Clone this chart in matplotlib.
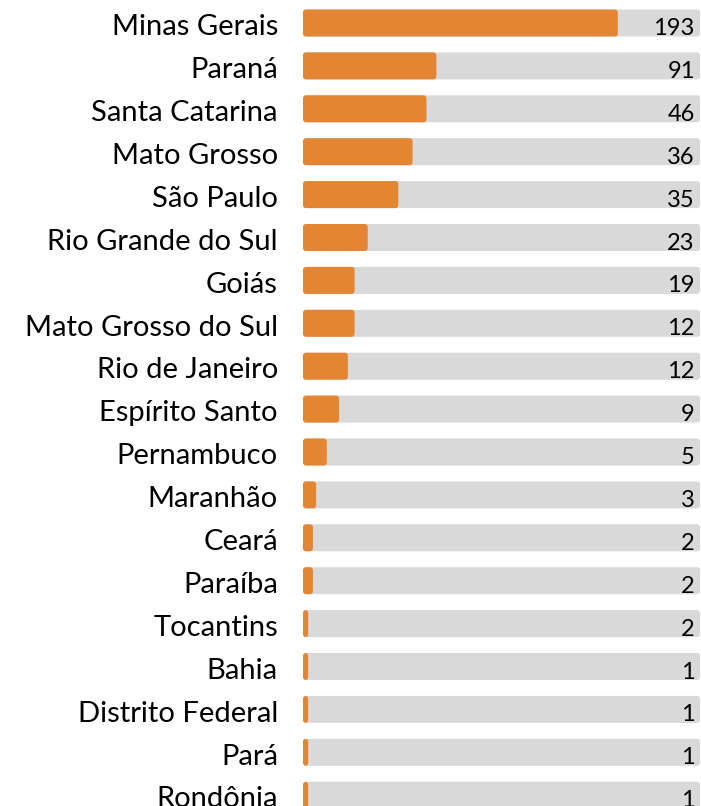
import matplotlib.pyplot as plt
from matplotlib.patches import FancyBboxPatch

# Dados
estados = ['Minas Gerais', 'Paraná', 'Santa Catarina', 'Mato Grosso', 'São Paulo',
           'Rio Grande do Sul', 'Goiás', 'Mato Grosso do Sul', 'Rio de Janeiro',
           'Espírito Santo', 'Pernambuco', 'Maranhão', 'Ceará', 'Paraíba',
           'Tocantins', 'Bahia', 'Distrito Federal', 'Pará', 'Rondônia']
valores = [193, 91, 46, 36, 35, 23, 19, 12, 12, 9, 5, 3, 2, 2, 2, 1, 1, 1, 1]
# comprimento da barra laranja (% da trilha cinza)
comprimento = [79.3, 33.6, 31.1, 27.6, 24.0, 16.3, 13.0, 13.0, 11.3, 9.1,
               6.0, 3.3, 2.5, 2.5, 1.3, 1.3, 1.3, 1.3, 1.3]

LARANJA = '#E38533'
CINZA = '#D9D9D9'
FONTE = 'Lato'

W, H = 701, 806
fig = plt.figure(figsize=(W / 100, H / 100), dpi=100)

passo = 42.9       # px entre linhas
y0 = 23            # centro da primeira linha (px a partir do topo)
n = len(estados)

# eixo que cobre a trilha cinza
left_px, right_px = 303, 700
ax = fig.add_axes([left_px / W, 0, (right_px - left_px) / W, 1])
ax.set_xlim(0, 100)
# y em unidades de linha: topo da figura = -y0/passo
ax.set_ylim((H - y0) / passo, -y0 / passo)
ax.axis('off')

px_x = 100 / (right_px - left_px)
px_y = 1 / passo
aspect = px_y / px_x
altura = 27 * px_y
raio = 3 * px_x

for i, (nome, v, c) in enumerate(zip(estados, valores, comprimento)):
    trilha = FancyBboxPatch((0, i - altura / 2), 100, altura,
                            boxstyle=f'round,pad=0,rounding_size={raio}',
                            mutation_aspect=aspect, fc=CINZA, ec='none')
    ax.add_patch(trilha)
    barra = FancyBboxPatch((0, i - altura / 2), c, altura,
                           boxstyle=f'round,pad=0,rounding_size={raio}',
                           mutation_aspect=aspect, fc=LARANJA, ec='none')
    ax.add_patch(barra)
    ax.text(98.7, i + 0.13, str(v), ha='right', va='center',
            fontsize=17, family=FONTE, color='black')
    ax.text(-6.3, i + 0.1, nome, ha='right', va='center', fontsize=21,
            family=FONTE, color='black', clip_on=False)

fig.savefig('out.png', dpi=100)
